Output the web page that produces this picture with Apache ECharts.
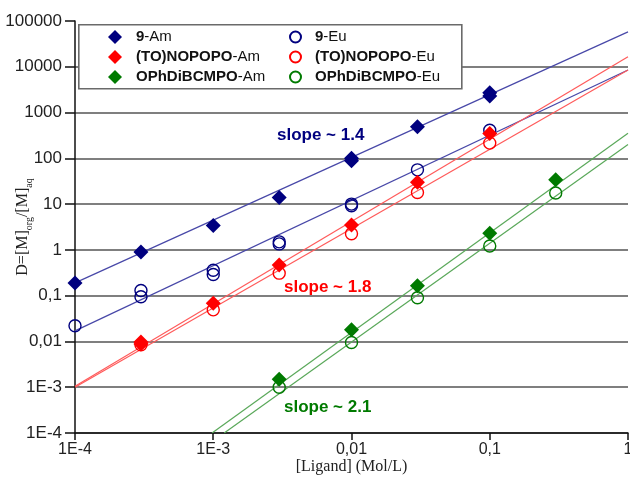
<!DOCTYPE html>
<html>
<head>
<meta charset="utf-8">
<script src="https://cdn.jsdelivr.net/npm/echarts@6/dist/echarts.min.js"></script>
<style>
  html, body { margin: 0; padding: 0; background: #fff; }
  #chart { width: 630px; height: 478px; }
</style>
</head>
<body>
<div id="chart"></div>
<script>
// tick labels (decimal comma as in the original)
var xTickLabels = ['1E-4', '1E-3', '0,01', '0,1', '1'];
var yTickLabels = ['1E-4', '1E-3', '0,01', '0,1', '1', '10', '100', '1000', '10000', '100000'];

// measured points: ligand concentration (Mol/L) and D
var am9X = [1e-4, 3e-4, 1e-3, 3e-3, 0.01, 0.01, 0.03, 0.1, 0.1];
var am9Y = [0.19, 0.9, 3.4, 14, 100, 88, 490, 2300, 2700];
var eu9X = [1e-4, 3e-4, 3e-4, 1e-3, 1e-3, 3e-3, 3e-3, 0.01, 0.01, 0.03, 0.1];
var eu9Y = [0.022, 0.13, 0.095, 0.36, 0.29, 1.5, 1.35, 9.2, 10, 56, 410];
var amToX = [3e-4, 3e-4, 1e-3, 3e-3, 0.01, 0.03, 0.1];
var amToY = [0.0088, 0.0097, 0.068, 0.47, 3.5, 30, 350];
var euToX = [3e-4, 1e-3, 3e-3, 0.01, 0.03, 0.1];
var euToY = [0.0085, 0.049, 0.31, 2.25, 18, 215];
var amOpX = [3e-3, 0.01, 0.03, 0.1, 0.3];
var amOpY = [0.0015, 0.018, 0.165, 2.3, 34];
var euOpX = [3e-3, 0.01, 0.03, 0.1, 0.3];
var euOpY = [0.001, 0.0095, 0.09, 1.22, 17.5];

// fitted lines, read as their two end points on the plot
var fit9Am = [[1e-4, 0.19], [1, 58000]];
var fit9Eu = [[1e-4, 0.017], [1, 8500]];
var fitToAm = [[1e-4, 0.00105], [1, 16500]];
var fitToEu = [[1e-4, 0.001], [1, 8500]];
var fitOpAm = [[0.00098, 1e-4], [1, 355]];
var fitOpEu = [[0.0012, 1e-4], [1, 200]];

var NAVY = '#00007f', RED = '#ff0000', GREEN = '#007a00';
var NAVY_L = '#4848a8', RED_L = '#ff5a5a', GREEN_L = '#5aa85a';

function zip(xs, ys) {
  var out = [];
  for (var i = 0; i < xs.length; i++) out.push([xs[i], ys[i]]);
  return out;
}
function decade(v) { return Math.round(Math.log(v) / Math.LN10); }

function fitLine(name, pts, color) {
  return {
    name: name, type: 'line', data: pts, showSymbol: false, silent: true,
    lineStyle: { color: color, width: 1.2 }, z: 1
  };
}
function diamonds(name, pts, color) {
  return {
    name: name, type: 'scatter', data: pts, symbol: 'diamond', symbolSize: 15,
    itemStyle: { color: color, opacity: 1 }, z: 4
  };
}
function circles(name, pts, color) {
  return {
    name: name, type: 'scatter', data: pts, symbol: 'circle', symbolSize: 12,
    itemStyle: { color: 'rgba(255,255,255,0)', borderColor: color, borderWidth: 1.4, opacity: 1 }, z: 3
  };
}

var legendRich = {
  b: { fontWeight: 'bold', fontSize: 15, fontFamily: 'Liberation Sans', color: '#111', padding: [0, 0, 0, 9] },
  n: { fontSize: 15, fontFamily: 'Liberation Sans', color: '#111' }
};
function legendFmt(name) {
  var i = name.lastIndexOf('-');
  return '{b|' + name.slice(0, i) + '}{n|' + name.slice(i) + '}';
}

var chart = echarts.init(document.getElementById('chart'));
chart.setOption({
  animation: false,
  backgroundColor: '#fff',
  grid: { left: 75, right: 2, top: 21, bottom: 45, containLabel: false, outerBoundsMode: 'none' },
  xAxis: {
    type: 'log', logBase: 10, min: 1e-4, max: 1, interval: 1,
    name: '[Ligand] (Mol/L)', nameLocation: 'middle', nameGap: 26, nameMoveOverlap: false,
    nameTextStyle: { fontFamily: 'Liberation Serif', fontSize: 16, color: '#222' },
    axisLine: { lineStyle: { color: '#111', width: 1.5 } },
    axisTick: { length: 7, lineStyle: { color: '#111', width: 1.5 } },
    axisLabel: {
      margin: 9, fontFamily: 'Liberation Sans', fontSize: 16, color: '#222',
      formatter: function (v) { return xTickLabels[decade(v) + 4]; }
    },
    splitLine: { show: false }
  },
  yAxis: {
    type: 'log', logBase: 10, min: 1e-4, max: 1e5, interval: 1,
    name: '{n|D=[M]}{s|org}{n|/[M]}{s|aq}', nameLocation: 'middle', nameGap: 44, nameMoveOverlap: false,
    nameTextStyle: {
      fontFamily: 'Liberation Serif', fontSize: 16, color: '#222',
      rich: {
        n: { fontFamily: 'Liberation Serif', fontSize: 16, lineHeight: 16, verticalAlign: 'top', color: '#222' },
        s: { fontFamily: 'Liberation Serif', fontSize: 10, lineHeight: 10, padding: [9, 0, 0, 0], verticalAlign: 'top', color: '#222' }
      }
    },
    axisLine: { lineStyle: { color: '#111', width: 1.5 } },
    axisTick: { length: 10, lineStyle: { color: '#111', width: 1.5 } },
    axisLabel: {
      margin: 13, fontFamily: 'Liberation Sans', fontSize: 17, color: '#222',
      formatter: function (v) { return yTickLabels[decade(v) + 4]; }
    },
    splitLine: { show: true, showMaxLine: false, lineStyle: { color: '#555', width: 1.5 } }
  },
  legend: [{
    orient: 'vertical', left: 108, top: 29, padding: 0, itemGap: 4,
    itemWidth: 14, itemHeight: 14,
    data: ['9-Am', '(TO)NOPOPO-Am', 'OPhDiBCMPO-Am'],
    formatter: legendFmt,
    textStyle: { lineHeight: 16, rich: legendRich },
    selectedMode: false, z: 6
  }, {
    orient: 'vertical', left: 289, top: 29, padding: 0, itemGap: 4,
    itemWidth: 11, itemHeight: 11,
    data: ['9-Eu', '(TO)NOPOPO-Eu', 'OPhDiBCMPO-Eu'],
    formatter: legendFmt,
    textStyle: { lineHeight: 16, rich: legendRich },
    selectedMode: false, z: 6
  }],
  graphic: [
    { type: 'rect', left: 78, top: 24, z: 5,
      shape: { width: 383, height: 64 },
      style: { fill: '#fff', stroke: '#6a6a6a', lineWidth: 1.6 } },
    { type: 'text', left: 277, top: 127, z: 6,
      style: { text: 'slope ~ 1.4', font: 'bold 17px "Liberation Sans"', fill: NAVY } },
    { type: 'text', left: 284, top: 279, z: 6,
      style: { text: 'slope ~ 1.8', font: 'bold 17px "Liberation Sans"', fill: RED } },
    { type: 'text', left: 284, top: 399, z: 6,
      style: { text: 'slope ~ 2.1', font: 'bold 17px "Liberation Sans"', fill: GREEN } }
  ],
  series: [
    fitLine('fit 9-Am', fit9Am, NAVY_L),
    fitLine('fit 9-Eu', fit9Eu, NAVY_L),
    fitLine('fit TO-Am', fitToAm, RED_L),
    fitLine('fit TO-Eu', fitToEu, RED_L),
    fitLine('fit OP-Am', fitOpAm, GREEN_L),
    fitLine('fit OP-Eu', fitOpEu, GREEN_L),
    circles('9-Eu', zip(eu9X, eu9Y), NAVY),
    circles('(TO)NOPOPO-Eu', zip(euToX, euToY), RED),
    circles('OPhDiBCMPO-Eu', zip(euOpX, euOpY), GREEN),
    diamonds('9-Am', zip(am9X, am9Y), NAVY),
    diamonds('(TO)NOPOPO-Am', zip(amToX, amToY), RED),
    diamonds('OPhDiBCMPO-Am', zip(amOpX, amOpY), GREEN)
  ]
});
</script>
</body>
</html>
